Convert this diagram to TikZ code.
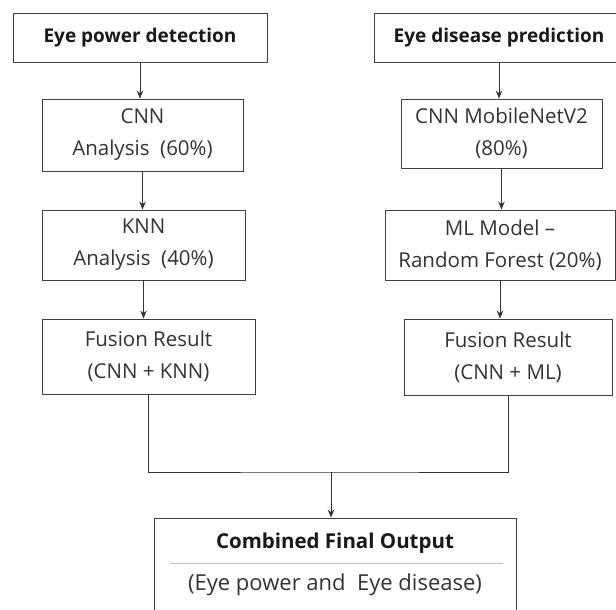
\documentclass[tikz,border=0pt]{standalone}
\usepackage{fontspec}
\setmainfont{Open Sans}
\usetikzlibrary{arrows.meta}

\tikzset{
  box/.style={draw=black!75, line width=0.9pt, align=center, inner sep=0pt,
    text=black!80, font=\fontsize{20.5}{32}\selectfont},
  hdr/.style={box, text=black!90, font=\fontsize{19}{32}\selectfont\bfseries},
  arr/.style={draw=black!80, line width=0.9pt, -{Stealth[length=8pt,width=6.5pt]}},
  link/.style={draw=black!80, line width=0.9pt}
}

\begin{document}
\begin{tikzpicture}[x=1pt,y=-1pt]
  \useasboundingbox (0,0) rectangle (616,610);
  \fill[white] (0,0) rectangle (616,610);

  % eye power branch
  \node at (140,37.5) [hdr, minimum width=254pt, minimum height=49pt] (pow) {Eye power detection};
  \node at (142.5,135) [box, minimum width=201pt, minimum height=72pt] (cnnA) {CNN\\Analysis\ \ (60\%)};
  \node at (143.5,245) [box, minimum width=203pt, minimum height=70pt] (knnA) {KNN\\Analysis\ \ (40\%)};
  \node at (148.5,356.5) [box, minimum width=213pt, minimum height=75pt] (fusA) {Fusion Result\\(CNN + KNN)};

  % eye disease branch
  \node at (499,37.5) [hdr, minimum width=250pt, minimum height=49pt] (dis) {Eye disease prediction};
  \node at (501.5,133.5) [box, minimum width=201pt, minimum height=69pt] (mob) {CNN MobileNetV2\\(80\%)};
  \node at (500,245) [box, minimum width=230pt, minimum height=70pt] (rf) {ML Model --\\Random Forest (20\%)};
  \node at (508,357) [box, minimum width=208pt, minimum height=76pt] (fusB) {Fusion Result\\(CNN + ML)};

  % final output
  \node at (335,566) [box, minimum width=362pt, minimum height=96pt] (fin) {};
  \node at (335,543) [text=black!90, font=\fontsize{20.5}{32}\selectfont\bfseries] (finT) {Combined Final Output};
  \node at (335,585) [text=black!80, font=\fontsize{22}{32}\selectfont] (finS) {(Eye power and\ \ Eye disease)};
  \draw[black!25, line width=0.8pt] (170,563) -- (503,563);

  \draw[arr] (pow.south) -- (pow.south |- cnnA.north);
  \draw[arr] (cnnA.south) -- (cnnA.south |- knnA.north);
  \draw[arr] (knnA.south) -- (knnA.south |- fusA.north);
  \draw[arr] (dis.south) -- (dis.south |- mob.north);
  \draw[arr] (mob.south) -- (mob.south |- rf.north);
  \draw[arr] (rf.south) -- (rf.south |- fusB.north);

  \coordinate (join) at (331,472);
  \draw[link] (fusA.south) |- (join) -| (fusB.south);
  \draw[arr] (join) -- (join |- fin.north);
\end{tikzpicture}
\end{document}
